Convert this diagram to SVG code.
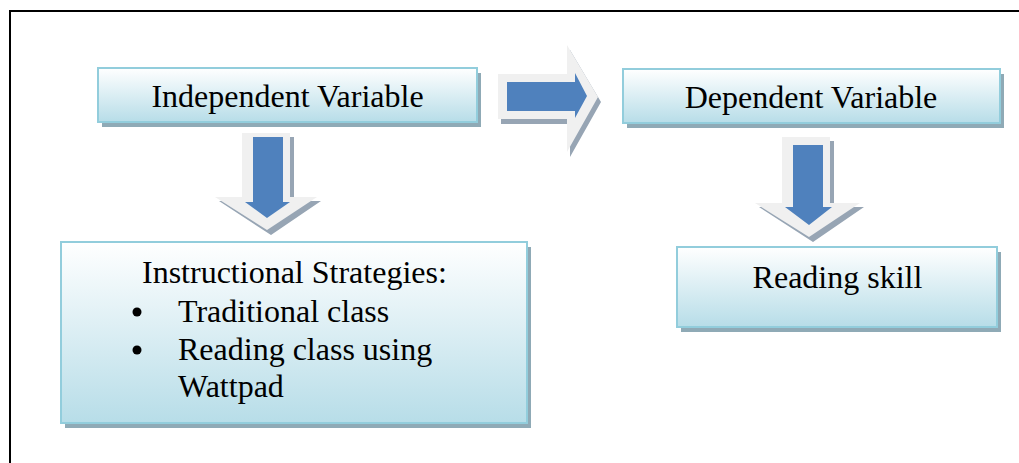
<svg xmlns="http://www.w3.org/2000/svg" width="1019" height="463" viewBox="0 0 1019 463">
<defs>
<linearGradient id="g" x1="0" y1="0" x2="0" y2="1">
<stop offset="0" stop-color="#ffffff"/>
<stop offset="1" stop-color="#b7dde8"/>
</linearGradient>
<linearGradient id="ga" x1="0" y1="0" x2="0" y2="1">
<stop offset="0" stop-color="#eeeeee"/>
<stop offset="1" stop-color="#fafafa"/>
</linearGradient>
</defs>
<style>
.box{fill:url(#g);stroke:#92cddc;stroke-width:2}
.sh{fill:#8faab6}
.t{font-family:"Liberation Serif","Times New Roman",serif;font-size:32px;fill:#000}
.ao{fill:#f0f0f0}
.as{fill:#97a5b4}
.ab{fill:#4f81bd}
</style>
<rect x="10" y="11" width="1030" height="470" fill="none" stroke="#000" stroke-width="2"/>
<g id="connectors">
<g id="arrow-right">
<polygon class="as" points="501,79 570,79 570,50 601,102 570,157 570,124 501,124"/>
<polygon class="ao" points="498,74 567,74 567,45 598,97 567,152 567,119 498,119"/>
<polygon class="ab" points="507,82 575,82 575,73 587,96 575,118 575,111 507,111"/>
</g>
<g id="arrow-down-1">
<polygon class="as" points="246,137 294,137 294,201 321,201 271,235 219,201 246,201"/>
<polygon class="ao" points="242,133 290,133 290,197 317,197 267,230 215,197 242,197"/>
<polygon class="ab" points="253,137 283,137 283,202 290,202 267,218 245,202 253,202"/>
</g>
<g id="arrow-down-2">
<polygon class="as" points="786,141 834,141 834,207 864,207 813,242 759,207 786,207"/>
<polygon class="ao" points="782,137 830,137 830,203 860,203 809,237 755,203 782,203"/>
<polygon class="ab" points="793,145 823,145 823,207 832,207 809,225 785,207 793,207"/>
</g>
</g>
<g id="independent">
<rect class="sh" x="102" y="73" width="379" height="54"/>
<rect class="box" x="98" y="68" width="379" height="54"/>
<text class="t" x="287.5" y="107" text-anchor="middle">Independent Variable</text>
</g>
<g id="dependent">
<rect class="sh" x="627" y="74" width="377" height="54"/>
<rect class="box" x="623" y="69" width="377" height="54"/>
<text class="t" x="811" y="108" text-anchor="middle">Dependent Variable</text>
</g>
<g id="strategies">
<rect class="sh" x="65" y="247" width="466" height="181"/>
<rect class="box" x="61" y="242" width="466" height="181"/>
<text class="t" x="142" y="283">Instructional Strategies:</text>
<circle cx="137" cy="312" r="4.5"/>
<text class="t" x="178" y="322">Traditional class</text>
<circle cx="137" cy="350" r="4.5"/>
<text class="t" x="178" y="360">Reading class using</text>
<text class="t" x="178" y="397">Wattpad</text>
</g>
<g id="reading-skill">
<rect class="sh" x="681" y="252" width="320" height="80"/>
<rect class="box" x="677" y="247" width="320" height="80"/>
<text class="t" x="837.5" y="288" text-anchor="middle">Reading skill</text>
</g>
</svg>
